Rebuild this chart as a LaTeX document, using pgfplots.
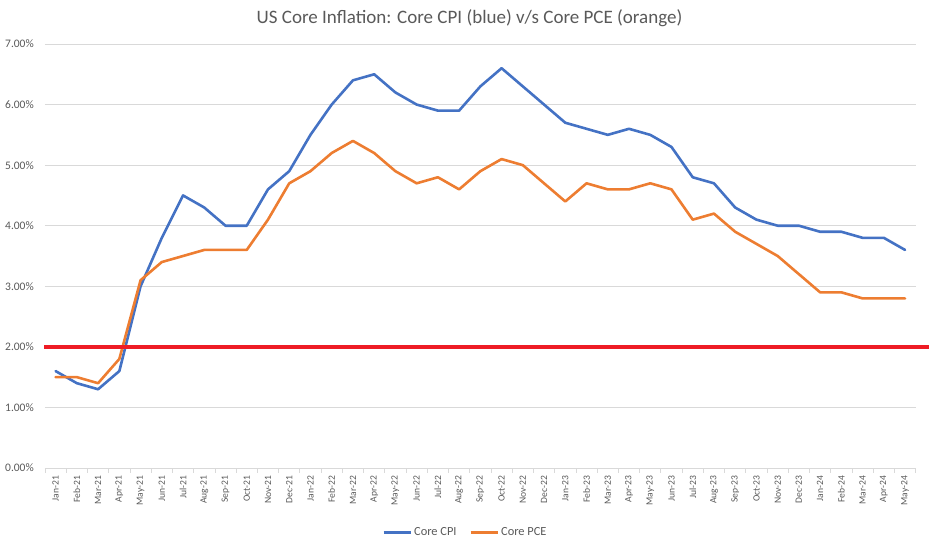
\documentclass[border=0pt]{standalone}
\usepackage{pgfplots}
\pgfplotsset{compat=1.18}
\usepackage{fontspec}
\setmainfont{Carlito}
\definecolor{cpi}{HTML}{4472C4}
\definecolor{pce}{HTML}{ED7D31}
\definecolor{refred}{HTML}{EE1C25}
\definecolor{gridc}{HTML}{D9D9D9}
\definecolor{txt}{HTML}{595959}
\pgfplotstableread{
i cpi pce
0 1.6 1.5
1 1.4 1.5
2 1.3 1.4
3 1.6 1.8
4 3.0 3.1
5 3.8 3.4
6 4.5 3.5
7 4.3 3.6
8 4.0 3.6
9 4.0 3.6
10 4.6 4.1
11 4.9 4.7
12 5.5 4.9
13 6.0 5.2
14 6.4 5.4
15 6.5 5.2
16 6.2 4.9
17 6.0 4.7
18 5.9 4.8
19 5.9 4.6
20 6.3 4.9
21 6.6 5.1
22 6.3 5.0
23 6.0 4.7
24 5.7 4.4
25 5.6 4.7
26 5.5 4.6
27 5.6 4.6
28 5.5 4.7
29 5.3 4.6
30 4.8 4.1
31 4.7 4.2
32 4.3 3.9
33 4.1 3.7
34 4.0 3.5
35 4.0 3.2
36 3.9 2.9
37 3.9 2.9
38 3.8 2.8
39 3.8 2.8
40 3.6 2.8
}\datatable
\begin{document}
\begin{tikzpicture}
\begin{axis}[
  name=ax,
  scale only axis, width=870.7pt, height=424pt,
  xmin=-0.5, xmax=40.5, ymin=0, ymax=7,
  clip=false,
  axis x line*=bottom, axis y line*=left,
  x axis line style={-, draw=gridc, line width=0.75pt},
  y axis line style={draw=none},
  xtick={0,...,40},
  xticklabels={Jan-21,Feb-21,Mar-21,Apr-21,May-21,Jun-21,Jul-21,Aug-21,Sep-21,Oct-21,Nov-21,Dec-21,
    Jan-22,Feb-22,Mar-22,Apr-22,May-22,Jun-22,Jul-22,Aug-22,Sep-22,Oct-22,Nov-22,Dec-22,
    Jan-23,Feb-23,Mar-23,Apr-23,May-23,Jun-23,Jul-23,Aug-23,Sep-23,Oct-23,Nov-23,Dec-23,
    Jan-24,Feb-24,Mar-24,Apr-24,May-24},
  minor xtick={-0.5,0.5,...,40.5},
  tick align=outside,
  major tick length=0pt,
  minor tick length=4.5pt,
  minor tick style={draw=gridc, line width=0.75pt},
  ytick={0,...,7},
  ymajorgrids,
  major grid style={draw=gridc, line width=0.75pt},
  /pgf/number format/assume math mode=true,
  yticklabel={\pgfmathprintnumber[fixed,fixed zerofill,precision=2]{\tick}\%},
  yticklabel style={font=\fontsize{11.5}{13}\selectfont, text=txt, inner sep=0pt, anchor=east},
  yticklabel shift=11pt,
  xticklabel style={font=\fontsize{9.6}{11}\selectfont, text=txt, inner sep=0pt, rotate=90, anchor=east},
  xticklabel shift=7.7pt,
  legend style={at={(axis description cs:0.4824,-0.1526)}, anchor=center, draw=none, fill=none,
    font=\fontsize{12.4}{14}\selectfont, text=txt, inner sep=0pt,
    nodes={inner xsep=1.5pt, inner ysep=1pt},
    /tikz/every even column/.append style={column sep=11pt}},
  legend columns=2,
  legend image code/.code={\draw[#1, line width=3pt, line cap=butt] (0pt,0pt) -- (27.6pt,0pt);},
]
\addplot[cpi, line width=2.6pt, line join=round, line cap=round] table[x=i, y=cpi] {\datatable};
\addlegendentry{Core CPI}
\addplot[pce, line width=2.6pt, line join=round, line cap=round] table[x=i, y=pce] {\datatable};
\addlegendentry{Core PCE}
\addplot[refred, line width=4.6pt, forget plot] coordinates {(-0.53,2) (41.13,2)};
\end{axis}
\pgfresetboundingbox
\path[use as bounding box] ([shift={(-45pt,-78pt)}]ax.south west) rectangle ([shift={(13.3pt,44pt)}]ax.north east);
\node[font=\fontsize{19}{22}\selectfont, text=txt] at ([shift={(-10.85pt,26pt)}]ax.north) {US Core Inflation: Core CPI (blue) v/s Core PCE (orange)};
\end{tikzpicture}
\end{document}
